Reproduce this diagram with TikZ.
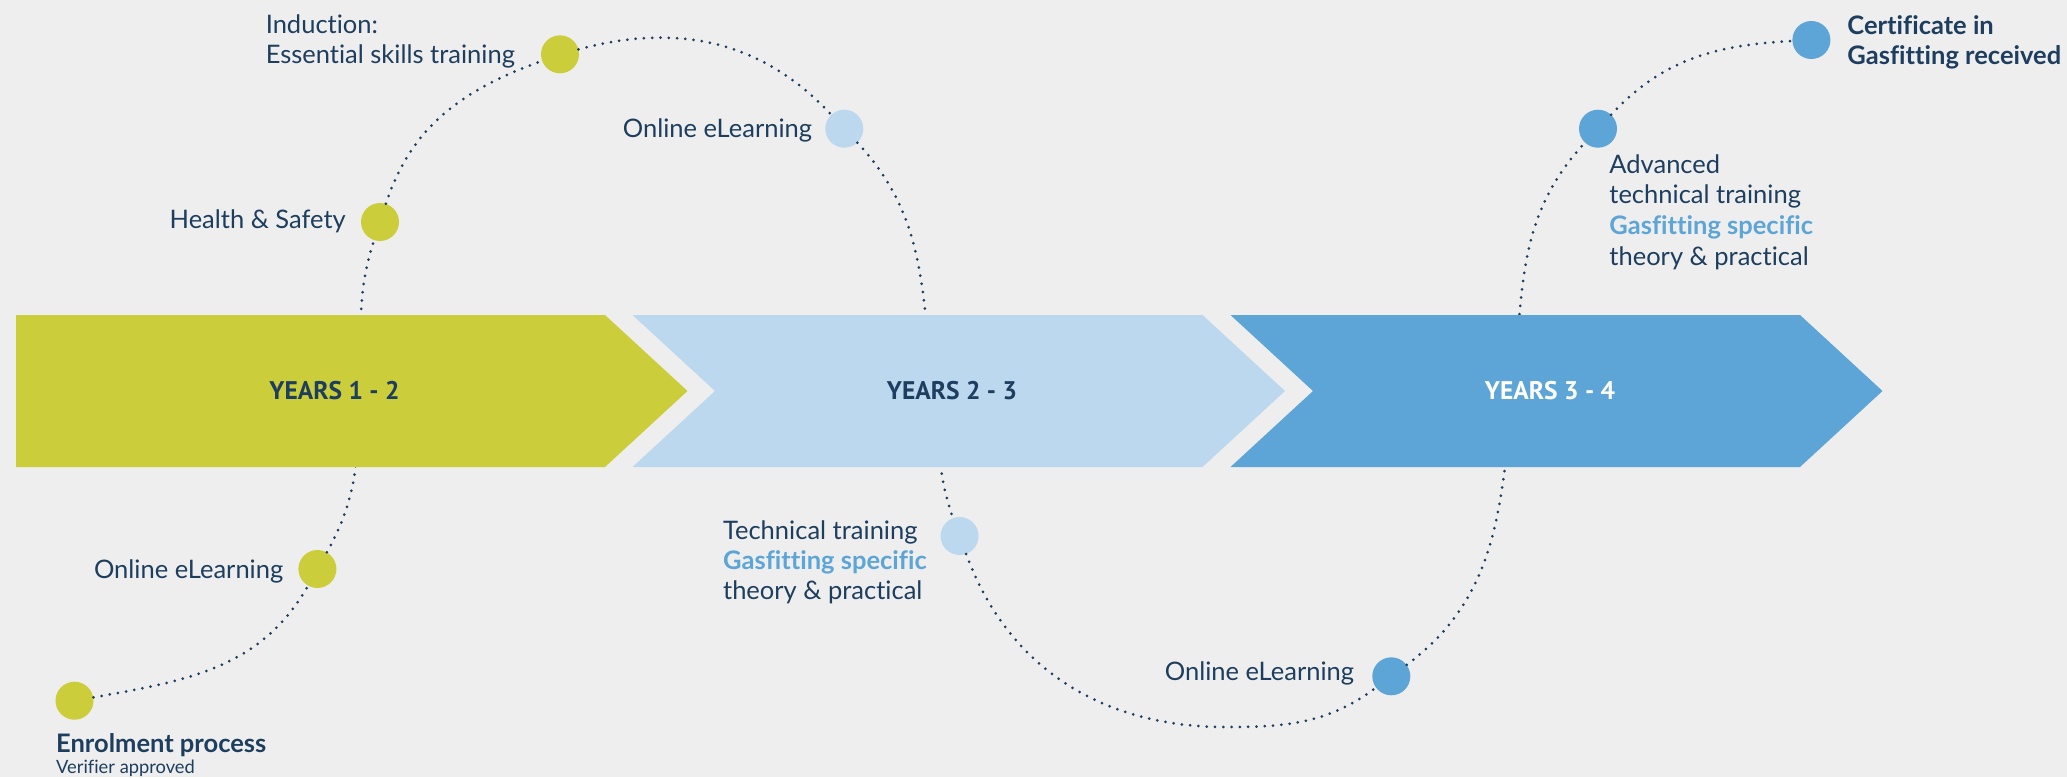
\documentclass[tikz,border=0pt]{standalone}
\usepackage{fontspec}
\setmainfont{Lato}[Ligatures=NoCommon]
\newfontfamily\yearsfont{PT Sans}
\definecolor{bg}{HTML}{EEEEEE}
\definecolor{lime}{HTML}{CBCE3A}
\definecolor{sky}{HTML}{BCD8EF}
\definecolor{mid}{HTML}{5DA5D6}
\definecolor{navy}{HTML}{1D3E5E}
\begin{document}
\begin{tikzpicture}[x=1pt,y=1pt,
  dotnode/.style={circle,minimum size=38pt,inner sep=0pt,draw=none},
  trail/.style={draw=navy,line width=3pt,line cap=round,dash pattern=on 0pt off 8.3pt},
  lbl/.style={inner sep=0pt,text=navy,font=\fontsize{25.5}{30.3}\selectfont},
  yr/.style={inner sep=0pt,font=\yearsfont\bfseries\fontsize{25.5}{30}\selectfont}]
\fill[bg] (0,0) rectangle (2067,-777);
\useasboundingbox (0,0) rectangle (2067,-777);

% milestone dots
\node[dotnode,fill=lime] (E)  at (74.5,-700.7) {};
\node[dotnode,fill=lime] (OL) at (317.4,-569) {};
\node[dotnode,fill=lime] (HS) at (380,-222) {};
\node[dotnode,fill=lime] (IN) at (560,-54.3) {};
\node[dotnode,fill=sky]  (OT) at (844.3,-128.7) {};
\node[dotnode,fill=sky]  (TT) at (959.6,-536) {};
\node[dotnode,fill=mid]  (OB) at (1391.3,-676.3) {};
\node[dotnode,fill=mid]  (AD) at (1598,-128.7) {};
\node[dotnode,fill=mid]  (CE) at (1811.4,-40) {};

% hidden waypoints (behind the bars) and the trough
\coordinate (b1) at (360,-391);
\coordinate (b2) at (934,-391);
\coordinate (t1) at (1225,-727);
\coordinate (b3) at (1513,-391);

% dotted trail
\draw[trail] (E) to[out=10,in=240.7] (OL)
  to[out=60.7,in=268] (b1) to[out=88,in=252] (HS)
  to[out=72,in=200] (IN)
  to[out=15,in=133] (OT)
  to[out=-47,in=97.5] (b2) to[out=-82.5,in=110] (TT)
  to[out=-70,in=180] (t1) to[out=0,in=216.8] (OB)
  to[out=36.8,in=264] (b3) to[out=84,in=227] (AD)
  to[out=47,in=183] (CE);

% chevron bars
\fill[lime] (16,-315) -- (605,-315) -- (687.5,-391) -- (605,-467) -- (16,-467) -- cycle;
\fill[sky] (632.5,-315) -- (1202.5,-315) -- (1285,-391) -- (1202.5,-467) -- (632.5,-467) -- (715,-391) -- cycle;
\fill[mid] (1230.5,-315) -- (1800,-315) -- (1882.5,-391) -- (1800,-467) -- (1230.5,-467) -- (1313,-391) -- cycle;
\node[yr,text=navy]  (y1) at (334.5,-391) {YEARS 1 - 2};
\node[yr,text=navy]  (y2) at (952,-391) {YEARS 2 - 3};
\node[yr,text=white] (y3) at (1550,-391) {YEARS 3 - 4};

% labels
\node[lbl,anchor=base west] (tind) at (265.6,-33) {\vtop{\hbox{Induction:}\hbox{Essential skills training}}};
\node[lbl,anchor=base east] (ths) at (346,-228) {Health \& Safety};
\node[lbl,anchor=base east] (tol) at (283.5,-578) {Online eLearning};
\node[lbl,anchor=base west] (tenr) at (56,-752) {\vtop{\hbox{\bfseries Enrolment process}\baselineskip=21.3pt\hbox{\fontsize{18.3}{21}\selectfont Verifier approved}}};
\node[lbl,anchor=base east] (tot) at (812.3,-137.7) {Online eLearning};
\node[lbl,anchor=base west] (ttech) at (722.9,-539.3) {\vtop{\hbox{Technical training}\hbox{\color{mid}\bfseries Gasfitting specific}\hbox{theory \& practical}}};
\node[lbl,anchor=base east] (tob) at (1354.3,-680) {Online eLearning};
\node[lbl,anchor=base west] (tadv) at (1609.2,-173.3) {\vtop{\baselineskip=30.6pt\hbox{Advanced}\hbox{technical training}\hbox{\color{mid}\bfseries Gasfitting specific}\hbox{theory \& practical}}};
\node[lbl,anchor=base west] (tcert) at (1847.2,-34) {\vtop{\bfseries\hbox{Certificate in}\hbox{Gasfitting received}}};
\end{tikzpicture}
\end{document}
